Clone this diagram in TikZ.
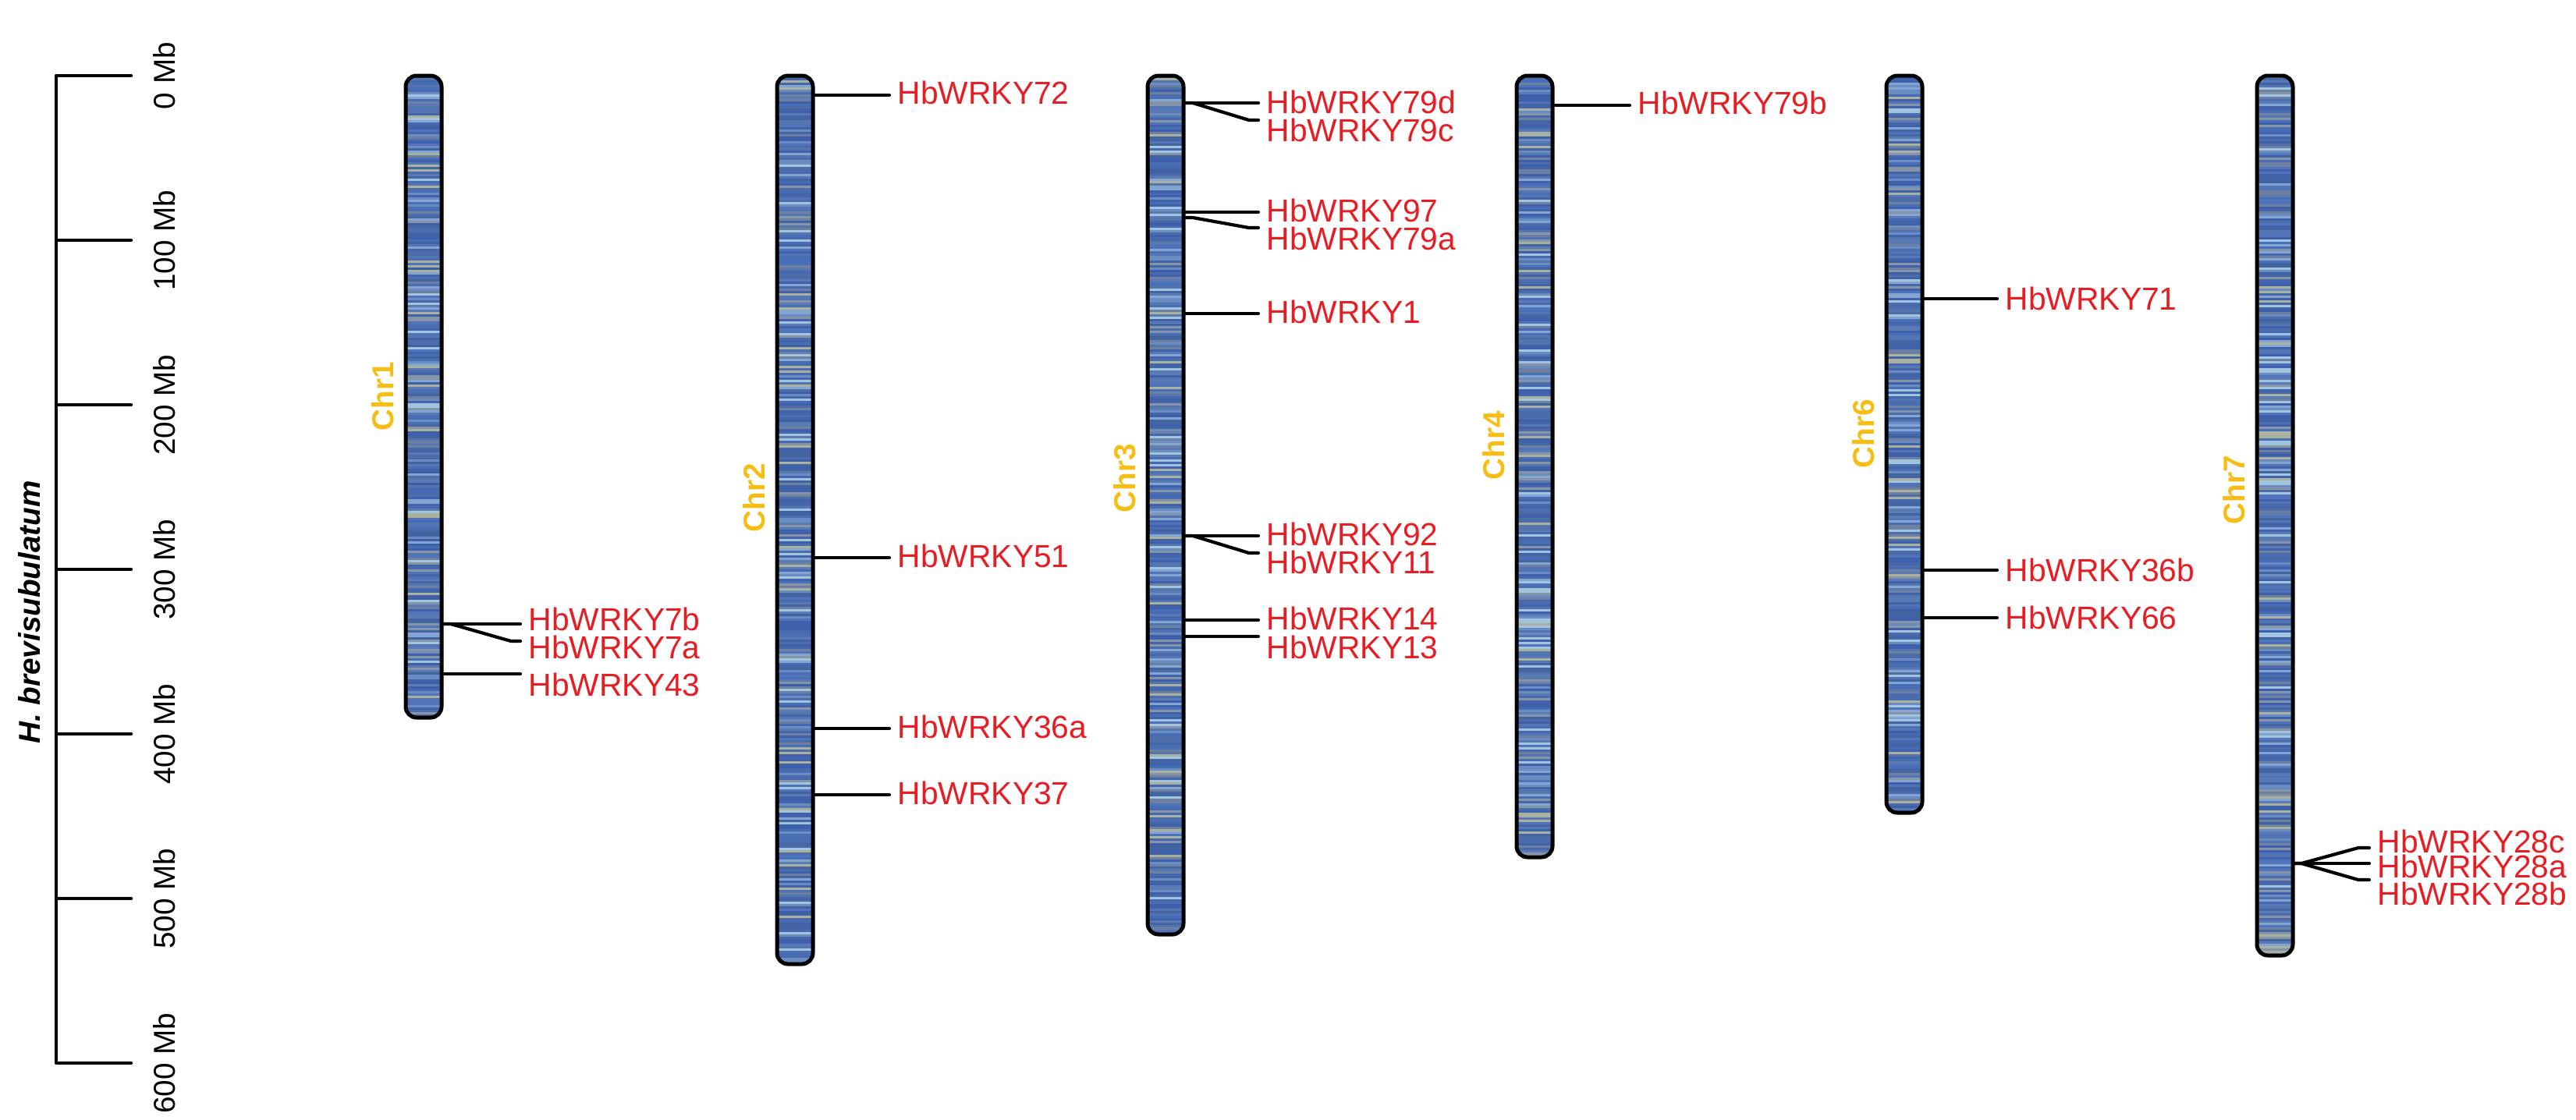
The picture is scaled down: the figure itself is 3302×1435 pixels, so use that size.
\documentclass[tikz,border=0pt]{standalone}
\usepackage{fontspec}
\setmainfont{Liberation Sans}
\usetikzlibrary{calc,positioning}

\definecolor{genered}{RGB}{230,30,36}
\definecolor{chrgold}{RGB}{246,190,20}
% band colours of the chromosomes
\definecolor{band1}{RGB}{62,96,170}
\definecolor{band2}{RGB}{70,105,178}
\definecolor{band3}{RGB}{80,115,185}
\definecolor{band4}{RGB}{66,100,160}
\definecolor{band5}{RGB}{90,122,180}
\definecolor{band6}{RGB}{105,140,195}
\definecolor{band7}{RGB}{130,165,210}
\definecolor{band8}{RGB}{160,195,222}
\definecolor{band9}{RGB}{110,128,162}
\definecolor{band10}{RGB}{135,148,168}
\definecolor{band11}{RGB}{170,176,160}
\definecolor{band12}{RGB}{72,110,182}
\definecolor{band13}{RGB}{64,98,172}
\definecolor{band14}{RGB}{76,108,170}
\definecolor{band15}{RGB}{84,118,176}
\definecolor{band16}{RGB}{68,102,168}

\begin{document}
\begin{tikzpicture}[
        x=0.01cm, y=-0.01cm,
        axis/.style={line width=0.045cm, line cap=round, line join=round},
        ticklbl/.style={rotate=90, font=\fontsize{11}{13}\selectfont, inner sep=0pt},
        chrom/.style={draw=black, line width=0.05cm, rounded corners=0.14cm},
        chrlbl/.style={rotate=90, text=chrgold, font=\fontsize{11}{13}\selectfont\bfseries, inner sep=0pt},
        gene/.style={anchor=west, text=genered, font=\fontsize{11.6}{14}\selectfont, inner xsep=0.1cm, inner ysep=0pt},
        link/.style={line width=0.042cm, line cap=round, line join=round}
    ]
        \useasboundingbox (0,0) rectangle (3302,1435);
        \pgfmathsetseed{7}

        % scale bar
        \draw[axis] (168,97) -- (72,97) -- (72,1363) -- (168,1363);
        \foreach \m in {1,...,5}
            \draw[axis] (72,97+211*\m) -- (168,97+211*\m);
        \foreach \m in {0,...,6} {
            \pgfmathtruncatemacro{\mb}{100*\m}
            \node[ticklbl] (tick\m) at (211,97+211*\m) {\mb\ Mb};
        }
        \node[rotate=90, font=\fontsize{11}{13}\selectfont\bfseries\itshape, inner sep=0pt] (species) at (38,785) {H. brevisubulatum};

        % chromosomes
        \foreach \nm/\cx/\cb/\ly in {1/543/920/508, 2/1019/1236/638, 3/1494/1198/613, 4/1967/1099/571, 6/2441/1042/556, 7/2916/1225/628} {
            \begin{scope}
                \clip[rounded corners=0.14cm] (\cx-23,97) rectangle (\cx+23,\cb);
                \fill[band2] (\cx-23,97) rectangle (\cx+23,\cb);
                \foreach \s in {97,100,...,\cb} {
                    \pgfmathrandominteger{\r}{1}{16}
                    \fill[fill=band\r] (\cx-23,\s) rectangle (\cx+23,\s+3);
                }
            \end{scope}
            \draw[chrom] (\cx-23,97) rectangle (\cx+23,\cb);
            \node[chrlbl] (chr\nm) at (\cx-52,\ly) {Chr\nm};
        }

        % Chr1
        \coordinate (s7b) at (566,800);
        \coordinate (s43) at (566,864);
        \node[gene] (n7b) at (667,794) {HbWRKY7b};
        \node[gene] (n7a) at (667,830) {HbWRKY7a};
        \node[gene] (n43) at (667,878) {HbWRKY43};
        \draw[link] (s7b) -- (s7b -| n7b.west);
        \draw[link] (s7b) -- ++(12,0) -- ($(n7a.west)+(-12,-8)$) -- ($(n7a.west)+(0,-8)$);
        \draw[link] (s43) -- (s43 -| n43.west);

        % Chr2
        \coordinate (s72) at (1042,122);
        \coordinate (s51) at (1042,715);
        \coordinate (s36a) at (1042,934);
        \coordinate (s37) at (1042,1019);
        \node[gene] (n72) at (1140,119) {HbWRKY72};
        \node[gene] (n51) at (1140,713) {HbWRKY51};
        \node[gene] (n36a) at (1140,932) {HbWRKY36a};
        \node[gene] (n37) at (1140,1017) {HbWRKY37};
        \draw[link] (s72) -- (s72 -| n72.west);
        \draw[link] (s51) -- (s51 -| n51.west);
        \draw[link] (s36a) -- (s36a -| n36a.west);
        \draw[link] (s37) -- (s37 -| n37.west);

        % Chr3
        \coordinate (s79d) at (1517,132);
        \coordinate (s97) at (1517,272);
        \coordinate (s79a) at (1517,279);
        \coordinate (s1) at (1517,402);
        \coordinate (s92) at (1517,687);
        \coordinate (s14) at (1517,795);
        \coordinate (s13) at (1517,816);
        \node[gene] (n79d) at (1613,131) {HbWRKY79d};
        \node[gene] (n79c) at (1613,167) {HbWRKY79c};
        \node[gene] (n97) at (1613,270) {HbWRKY97};
        \node[gene] (n79a) at (1613,306) {HbWRKY79a};
        \node[gene] (n1) at (1613,400) {HbWRKY1};
        \node[gene] (n92) at (1613,685) {HbWRKY92};
        \node[gene] (n11) at (1613,721) {HbWRKY11};
        \node[gene] (n14) at (1613,793) {HbWRKY14};
        \node[gene] (n13) at (1613,830) {HbWRKY13};
        \draw[link] (s79d) -- (s79d -| n79d.west);
        \draw[link] (s79d) -- ++(12,0) -- ($(n79c.west)+(-12,-13)$) -- ($(n79c.west)+(0,-13)$);
        \draw[link] (s97) -- (s97 -| n97.west);
        \draw[link] (s79a) -- ++(12,0) -- ($(n79a.west)+(-12,-14)$) -- ($(n79a.west)+(0,-14)$);
        \draw[link] (s1) -- (s1 -| n1.west);
        \draw[link] (s92) -- (s92 -| n92.west);
        \draw[link] (s92) -- ++(12,0) -- ($(n11.west)+(-12,-12)$) -- ($(n11.west)+(0,-12)$);
        \draw[link] (s14) -- (s14 -| n14.west);
        \draw[link] (s13) -- (s13 -| n13.west);

        % Chr4
        \coordinate (s79b) at (1990,135);
        \node[gene] (n79b) at (2089,132) {HbWRKY79b};
        \draw[link] (s79b) -- (s79b -| n79b.west);

        % Chr6
        \coordinate (s71) at (2464,383);
        \coordinate (s36b) at (2464,731);
        \coordinate (s66) at (2464,792);
        \node[gene] (n71) at (2560,383) {HbWRKY71};
        \node[gene] (n36b) at (2560,731) {HbWRKY36b};
        \node[gene] (n66) at (2560,792) {HbWRKY66};
        \draw[link] (s71) -- (s71 -| n71.west);
        \draw[link] (s36b) -- (s36b -| n36b.west);
        \draw[link] (s66) -- (s66 -| n66.west);

        % Chr7
        \coordinate (s28a) at (2939,1107);
        \node[gene] (n28c) at (3037,1079) {HbWRKY28c};
        \node[gene] (n28a) at (3037,1111) {HbWRKY28a};
        \node[gene] (n28b) at (3037,1146) {HbWRKY28b};
        \draw[link] (s28a) -- (s28a -| n28a.west);
        \draw[link] (s28a) -- ++(11,0) -- ($(n28c.west)+(-14,8)$) -- ($(n28c.west)+(0,8)$);
        \draw[link] (s28a) -- ++(11,0) -- ($(n28b.west)+(-14,-18)$) -- ($(n28b.west)+(0,-18)$);
    \end{tikzpicture}
\end{document}
